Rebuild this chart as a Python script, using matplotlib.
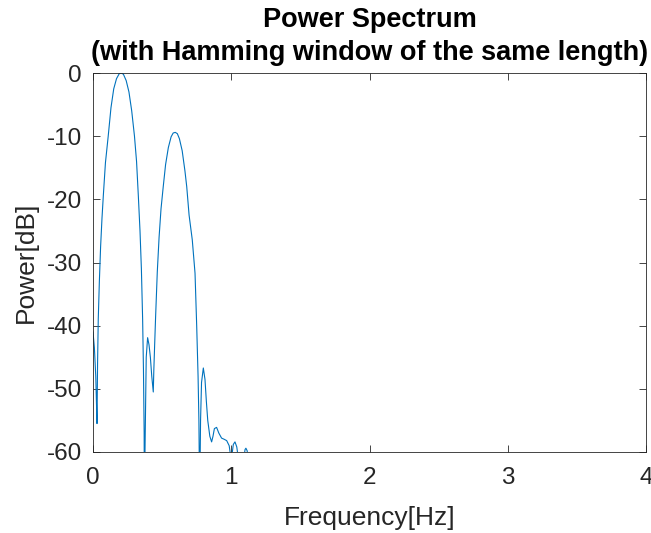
import numpy as np
from matplotlib import pyplot as plt

plt.rcParams['font.family'] = ['Liberation Sans', 'DejaVu Sans']
plt.rcParams['axes.unicode_minus'] = False

# frequency [Hz] and power [dB]
freq = [0.000, 0.010, 0.020, 0.026, 0.029, 0.033, 0.038, 0.046, 0.055, 0.065,
        0.075, 0.090, 0.110, 0.130, 0.150, 0.170, 0.190, 0.205, 0.220, 0.240,
        0.260, 0.280, 0.300, 0.315, 0.328, 0.340, 0.350, 0.359, 0.365, 0.370,
        0.372, 0.376, 0.385, 0.395, 0.405, 0.415, 0.425, 0.436, 0.440, 0.446,
        0.453, 0.465, 0.478, 0.492, 0.508, 0.525, 0.545, 0.565, 0.580, 0.595,
        0.610, 0.625, 0.645, 0.665, 0.678, 0.695, 0.718, 0.738, 0.750, 0.760,
        0.766, 0.769, 0.771, 0.773, 0.778, 0.785, 0.798, 0.810, 0.820, 0.830,
        0.845, 0.858, 0.868, 0.878, 0.894, 0.910, 0.930, 0.950, 0.967, 0.985,
        0.998, 1.005, 1.015, 1.027, 1.040, 1.051, 1.070, 1.090, 1.100, 1.106,
        1.115, 1.121, 1.150, 4.000]
power = [-41.0, -43.5, -48.0, -53.0, -55.5, -46.0, -39.0, -33.0, -27.5, -23.0,
         -19.3, -14.2, -10.0, -5.5, -2.5, -0.9, -0.1, 0.0, -0.2, -1.2,
         -3.0, -6.0, -10.0, -14.0, -19.5, -25.0, -31.0, -39.0, -47.0, -57.0,
         -75.0, -60.0, -45.0, -41.9, -43.0, -45.0, -48.0, -50.5, -47.0, -43.0,
         -38.5, -31.5, -26.0, -21.5, -18.0, -14.5, -11.8, -10.1, -9.5, -9.4,
         -9.6, -10.4, -12.3, -15.5, -18.0, -22.5, -26.4, -31.7, -40.0, -48.0,
         -55.0, -62.0, -75.0, -65.0, -55.0, -49.0, -46.7, -48.5, -52.0, -55.0,
         -57.5, -58.4, -57.5, -56.3, -56.1, -57.0, -57.8, -58.0, -58.2, -59.0,
         -61.0, -60.5, -58.8, -58.4, -59.2, -61.0, -63.0, -61.0, -59.6, -59.4,
         -59.8, -61.0, -70.0, -110.0]

fig = plt.figure(figsize=(6.51, 5.33), dpi=100)
ax = fig.add_axes([93/651, 1-452/533, 553/651, 379/533])

ax.plot(freq, power, color='#0072BD', linewidth=0.8)
ax.set_xlim(0, 4)
ax.set_ylim(-60, 0)
ax.set_xticks([0, 1, 2, 3, 4])
ax.set_yticks([-60, -50, -40, -30, -20, -10, 0])
ax.tick_params(direction='in', top=True, right=True, labelsize=17.5,
               colors='#262626', length=5, width=0.6)
ax.tick_params(axis='x', pad=11)
ax.tick_params(axis='y', pad=8)
for s in ax.spines.values():
    s.set_color('#262626')
    s.set_linewidth(0.6)

ax.set_title('Power Spectrum\n(with Hamming window of the same length)',
             fontsize=19.5, fontweight='bold', linespacing=1.38, pad=9)
ax.set_xlabel('Frequency[Hz]', fontsize=19, color='#262626', labelpad=12)
ax.set_ylabel('Power[dB]', fontsize=19, color='#262626', labelpad=6)

fig.savefig('out.png', dpi=100)
